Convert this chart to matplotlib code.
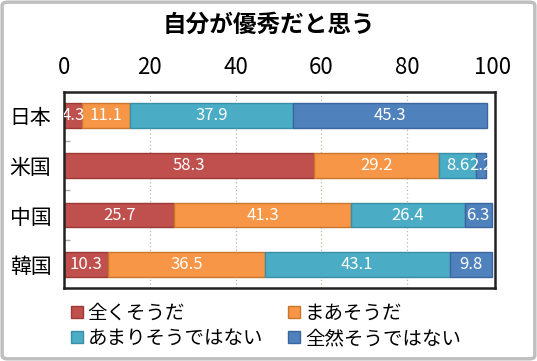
import matplotlib
matplotlib.use("Agg")
import matplotlib.pyplot as plt
from matplotlib.patches import FancyBboxPatch
import numpy as np

plt.rcParams['font.family'] = ['Noto Sans CJK JP', 'DejaVu Sans']

title = "自分が優秀だと思う"
categories = ["日本", "米国", "中国", "韓国"]
series_names = ["全くそうだ", "まあそうだ", "あまりそうではない", "全然そうではない"]
s1 = [4.3, 58.3, 25.7, 10.3]
s2 = [11.1, 29.2, 41.3, 36.5]
s3 = [37.9, 8.6, 26.4, 43.1]
s4 = [45.3, 2.2, 6.3, 9.8]
xticks = [0, 20, 40, 60, 80, 100]

colors = ["#C0504D", "#F79646", "#4BACC6", "#4F81BD"]
edges = ["#9C3A37", "#C9772F", "#3A8EA6", "#3A679E"]

fig = plt.figure(figsize=(5.37, 3.61), dpi=100)
border = FancyBboxPatch((0.004, 0.006), 0.992, 0.988, boxstyle="round,pad=0,rounding_size=0.01",
                        transform=fig.transFigure, fill=False, edgecolor="#BFBFBF", linewidth=2.5)
fig.patches.append(border)

ax = fig.add_axes([64/537, 1-288/361, (495-64)/537, (288-92)/361])
y = np.arange(len(categories))
left = np.zeros(len(categories))
handles = []
for vals, c, ec, name in zip([s1, s2, s3, s4], colors, edges, series_names):
    vals = np.array(vals)
    bars = ax.barh(y, vals, left=left, height=0.5, color=c, edgecolor=ec, linewidth=1, label=name)
    handles.append(bars)
    for yi, v, l in zip(y, vals, left):
        ax.text(l + v/2, yi, f"{v:.1f}", ha="center", va="center", color="white",
                fontsize=12, clip_on=True)
    left = left + vals

ax.set_xlim(0, 100.5)
ax.set_ylim(3.47, -0.48)
ax.set_yticks(y)
ax.set_yticklabels(categories, fontsize=15)
ax.set_yticks([0.5, 1.5, 2.5], minor=True)
ax.tick_params(axis='y', which='major', length=0, pad=9)
ax.tick_params(axis='y', which='minor', length=4, direction='in', color='#AAAAAA', width=1)
ax.xaxis.tick_top()
ax.set_xticks(xticks)
ax.set_xticklabels([str(t) for t in xticks], fontsize=16)
ax.tick_params(axis='x', length=0, pad=9)
for xv in xticks[1:-1]:
    ax.axvline(xv, color="#B8B8A0", linestyle=(0, (1, 2)), linewidth=0.9, zorder=0)
for sp in ax.spines.values():
    sp.set_linewidth(1.8)
    sp.set_color("#222222")

fig.text(0.5, 1-25/361, title, ha="center", va="center", fontsize=17, fontweight='bold')

order = [0, 2, 1, 3]
leg = fig.legend([handles[i] for i in order], [series_names[i] for i in order],
                 loc="center", bbox_to_anchor=(266/537, 1-326/361), ncol=2,
                 frameon=False, fontsize=14, handlelength=0.6, handleheight=0.6,
                 handletextpad=0.25, columnspacing=1.3, labelspacing=0.2)

fig.savefig("out.png", dpi=100)
